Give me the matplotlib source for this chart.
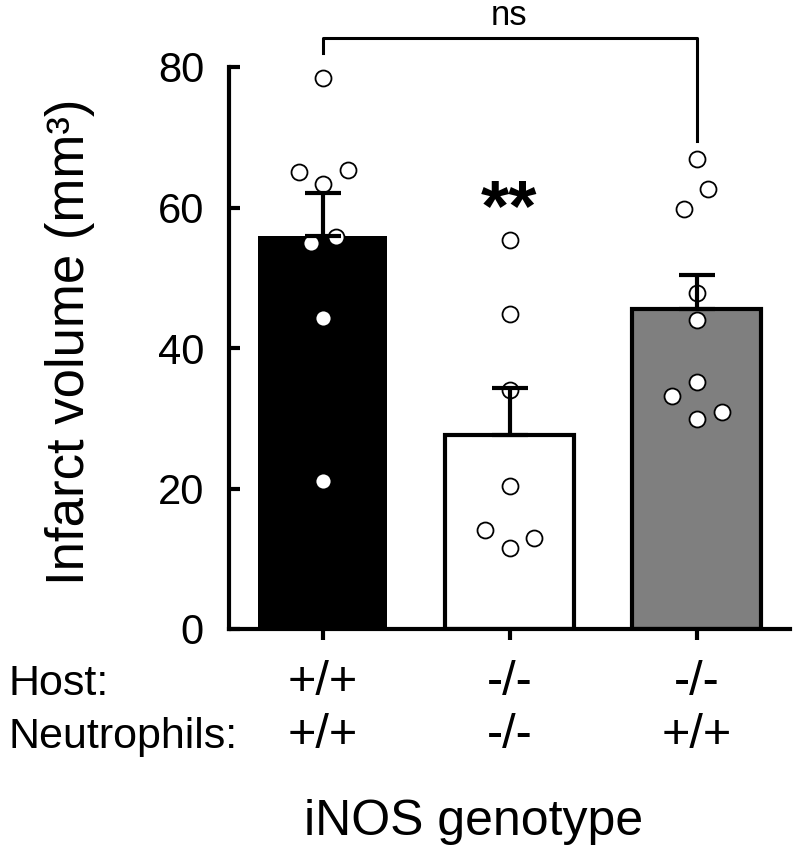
import matplotlib
matplotlib.use("Agg")
import matplotlib.pyplot as plt
import matplotlib.transforms as mtransforms
import numpy as np

plt.rcParams['font.family'] = ['Liberation Sans', 'DejaVu Sans']
plt.rcParams['mathtext.fontset'] = 'custom'
plt.rcParams['mathtext.rm'] = 'Liberation Sans'
plt.rcParams['mathtext.it'] = 'Liberation Sans:italic'

# ---- data ----
groups = ["WT", "KO", "KO+WT neut"]
host = ["+/+", "-/-", "-/-"]
neutrophils = ["+/+", "-/-", "+/+"]
means = [56.0, 27.6, 45.6]
sems = [6.0, 6.7, 4.8]
bar_colors = ["#000000", "#ffffff", "#7f7f7f"]
points_g1 = [78.5, 65.0, 65.3, 63.3, 55.0, 55.8, 44.2, 21.0]
jitter_g1 = [0.0, -0.123, 0.134, 0.0, -0.064, 0.07, 0.0, 0.0]
points_g2 = [55.4, 44.9, 34.0, 20.3, 14.1, 11.5, 12.9]
jitter_g2 = [0.0, 0.0, 0.0, 0.0, -0.13, 0.0, 0.13]
points_g3 = [66.9, 62.6, 59.8, 47.8, 44.0, 35.1, 33.2, 30.9, 29.9]
jitter_g3 = [0.0, 0.064, -0.066, 0.0, 0.0, 0.0, -0.13, 0.134, 0.0]
yticks = [0, 20, 40, 60, 80]

fig = plt.figure(figsize=(8, 8.58), dpi=100)
ax = fig.add_axes([229/800, 1-629/858, (790-229)/800, (629-67)/858])

x = np.arange(len(groups))
edge = ["none", "black", "black"]
for i in range(3):
    ax.bar(x[i], means[i], width=0.685, color=bar_colors[i],
           edgecolor=edge[i], linewidth=3.0 if edge[i] != "none" else 0, zorder=1)

for i, (pts, jit) in enumerate([(points_g1, jitter_g1), (points_g2, jitter_g2), (points_g3, jitter_g3)]):
    ax.plot(np.array(jit) + x[i], pts, 'o', ms=11.5, mfc='white', mec='black',
            mew=1.3, zorder=2, clip_on=False)

ax.errorbar(x, means, yerr=[np.zeros(3), sems], fmt='none', ecolor='black',
            elinewidth=3.0, capsize=13, capthick=3.0, zorder=3)

ax.set_xlim(-0.5, 2.5)
ax.set_ylim(0, 80)
ax.set_yticks(yticks)
ax.set_xticks(x)
ax.set_xticklabels([])
ax.tick_params(axis='y', direction='in', length=8, width=3, labelsize=30, pad=18)
ax.tick_params(axis='x', direction='out', length=8, width=3)
for s in ['top', 'right']:
    ax.spines[s].set_visible(False)
for s in ['left', 'bottom']:
    ax.spines[s].set_linewidth(3)

# significance
ax.text(1, 59.5, "**", ha='center', va='center', fontsize=52, fontweight='bold')
ax.plot([0, 0, 2, 2], [82.0, 84.1, 84.1, 69.4], color='black', lw=2.2, clip_on=False)
ax.text(1, 85.0, "ns", ha='center', va='bottom', fontsize=25)

# labels
fig.text(70/800, 1-342/858, "Infarct volume (mm\u00b3)", rotation=90,
         ha='center', va='center', fontsize=38)

trans = mtransforms.blended_transform_factory(ax.transData, fig.transFigure)
fig.text(8/800, 1-695/858, "Host:", ha='left', va='baseline', fontsize=31)
fig.text(8/800, 1-748/858, "Neutrophils:", ha='left', va='baseline', fontsize=31)
for i in range(3):
    ax.text(x[i], 1-695/858, host[i], transform=trans, ha='center', va='baseline', fontsize=35)
    ax.text(x[i], 1-748/858, neutrophils[i], transform=trans, ha='center', va='baseline', fontsize=35)
fig.text(474/800, 1-835/858, "iNOS genotype", ha='center', va='baseline', fontsize=36)

fig.savefig("out.png", dpi=100)
